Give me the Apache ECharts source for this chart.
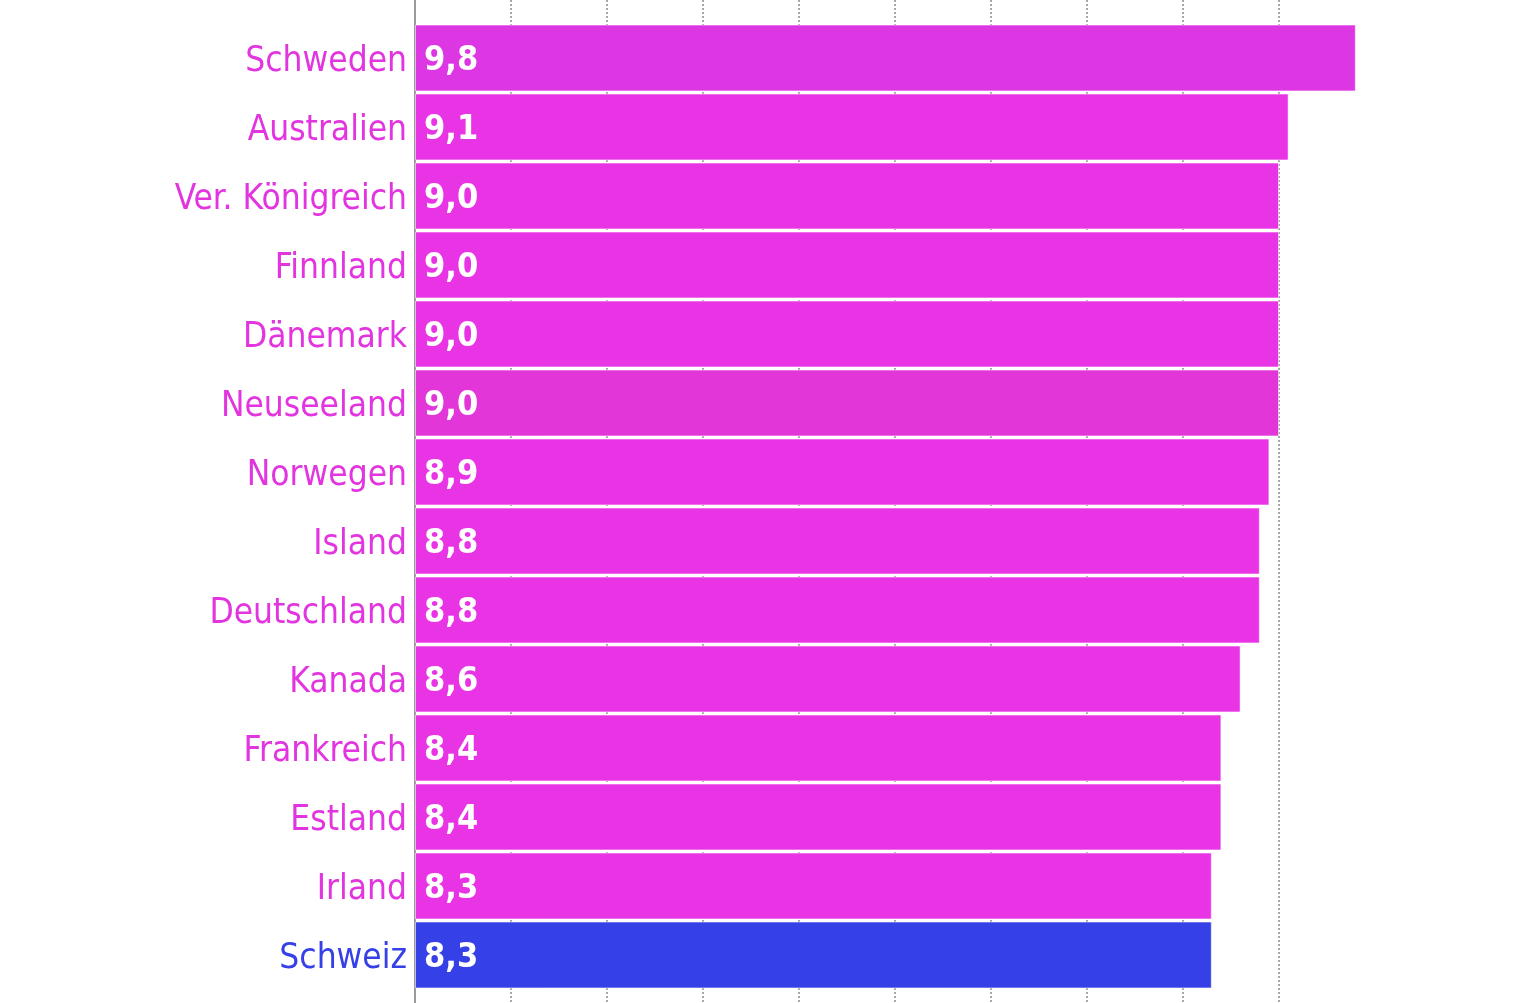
<!DOCTYPE html>
<html>
<head>
<meta charset="utf-8">
<title>Länder im Vergleich</title>
<script src="https://cdn.jsdelivr.net/npm/echarts@6/dist/echarts.min.js"></script>
<style>
  html, body { margin: 0; padding: 0; background: #ffffff; }
  #chart { width: 1536px; height: 1003px; }
</style>
</head>
<body>
<div id="chart"></div>
<script>
// Länder, von oben nach unten
const countries = [
  'Schweden', 'Australien', 'Ver. Königreich', 'Finnland', 'Dänemark',
  'Neuseeland', 'Norwegen', 'Island', 'Deutschland', 'Kanada',
  'Frankreich', 'Estland', 'Irland', 'Schweiz'
];
// Werte je Land
const scores = [9.8, 9.1, 9.0, 9.0, 9.0, 9.0, 8.9, 8.8, 8.8, 8.6, 8.4, 8.4, 8.3, 8.3];
// Gitterlinien der Werteachse
const gridTicks = [0, 1, 2, 3, 4, 5, 6, 7, 8, 9];

const MAGENTA = '#e834e4';
const HIGHLIGHT = '#3540e6';
const shadeFor = {
  'Schweden': '#dc37e3',
  'Neuseeland': '#e236d9'
};
const focus = 'Schweiz';

function barColor(name) {
  if (name === focus) return HIGHLIGHT;
  return shadeFor[name] || MAGENTA;
}

const PX_PER_UNIT = 96;
const LEFT = 415;
const AXIS_MAX = 10;
const NAME_FONT = '"DejaVu Sans Condensed", "DejaVu Sans", sans-serif';

const chart = echarts.init(document.getElementById('chart'), null, { renderer: 'canvas' });

chart.setOption({
  animation: false,
  backgroundColor: '#ffffff',
  grid: [
    // bars
    { left: LEFT, width: AXIS_MAX * PX_PER_UNIT, top: 23.5, bottom: 13.5, containLabel: false },
    // dotted guide lines and the baseline, full height
    { left: LEFT, width: gridTicks[gridTicks.length - 1] * PX_PER_UNIT, top: 0, bottom: 0, containLabel: false }
  ],
  xAxis: [
    {
      gridIndex: 0, type: 'value', min: 0, max: AXIS_MAX,
      axisLine: { show: false }, axisTick: { show: false },
      axisLabel: { show: false }, splitLine: { show: false }
    },
    {
      gridIndex: 1, type: 'value', min: gridTicks[0], max: gridTicks[gridTicks.length - 1], interval: 1,
      axisLine: { show: false }, axisTick: { show: false },
      axisLabel: { show: false },
      splitLine: { show: true, lineStyle: { color: '#8a8a8a', width: 1.5, type: [2, 2] } }
    }
  ],
  yAxis: [
    {
      gridIndex: 0, type: 'category', data: countries, inverse: true,
      axisLine: { show: false }, axisTick: { show: false },
      axisLabel: {
        margin: 8,
        formatter: v => (v === focus ? '{h|' : '{n|') + v + '}',
        rich: {
          n: { fontFamily: NAME_FONT, fontSize: 35, color: '#e235e0', padding: [7, 0, 0, 0] },
          h: { fontFamily: NAME_FONT, fontSize: 35, color: HIGHLIGHT, padding: [7, 0, 0, 0] }
        }
      }
    },
    {
      gridIndex: 1, type: 'value', min: 0, max: 1,
      axisLine: { show: true, onZero: false, lineStyle: { color: '#9a9a9a', width: 2 } },
      axisTick: { show: false }, axisLabel: { show: false }, splitLine: { show: false }
    }
  ],
  series: [
    {
      type: 'bar',
      xAxisIndex: 0, yAxisIndex: 0,
      z: 3,
      barCategoryGap: '3%',
      data: countries.map((name, i) => ({
        value: scores[i],
        itemStyle: { color: barColor(name) }
      })),
      itemStyle: { borderColor: 'rgba(255,255,255,0.55)', borderWidth: 1 },
      label: {
        show: true,
        position: 'insideLeft',
        offset: [0, 3],
        distance: 9,
        color: '#ffffff',
        fontFamily: NAME_FONT,
        fontWeight: 'bold',
        fontSize: 34,
        formatter: p => p.value.toFixed(1).replace('.', ',')
      }
    }
  ]
});
</script>
</body>
</html>
